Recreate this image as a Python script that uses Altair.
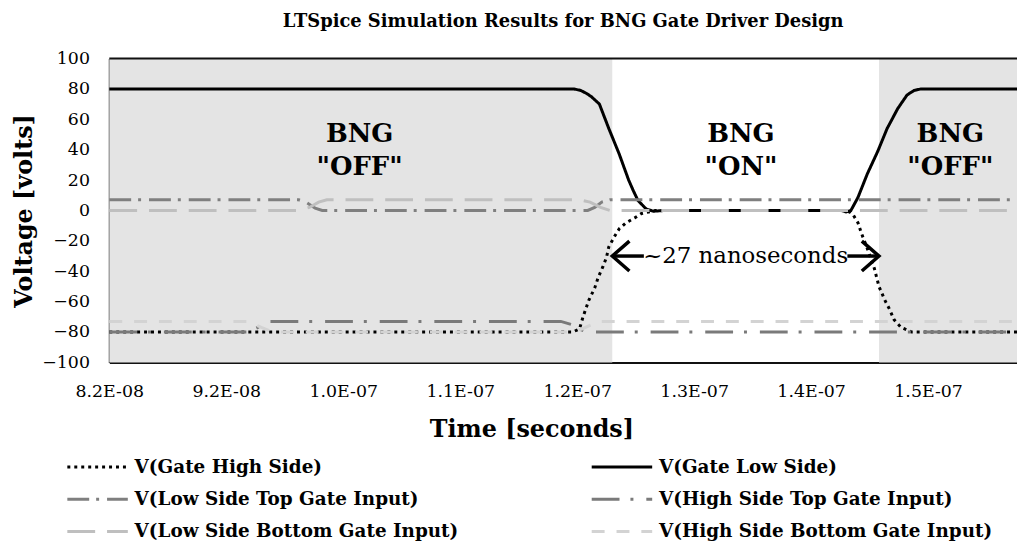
import json
import altair as alt
import pandas as pd

FONT = "DejaVu Serif"

# ---------------- data (time in ns, voltage in V) ----------------
series_names = [
    "V(Gate High Side)",
    "V(Gate Low Side)",
    "V(Low Side Top Gate Input)",
    "V(High Side Top Gate Input)",
    "V(Low Side Bottom Gate Input)",
    "V(High Side Bottom Gate Input)",
]

ghs_t = [82, 121.6, 122.2, 122.5, 123.0, 123.5, 123.8, 124.2, 124.5, 124.7, 125.2, 125.6,
         126.2, 126.9, 127.5, 128.1, 128.7, 144.8, 145.3, 145.6, 146.0, 146.3, 146.8,
         147.4, 147.8, 148.3, 148.7, 149.1, 149.7, 150.6, 159.6]
ghs_v = [-80, -80, -78, -70, -59, -51, -44, -37, -31, -24, -17, -12,
         -8, -5, -2, -1, 0, 0, -1, -3, -8, -15, -25,
         -38, -50, -59, -65, -72, -77, -80, -80]

gls_t = [82, 121.7, 122.3, 122.8, 123.2, 123.9, 124.7, 125.6, 126.4, 126.8, 127.2, 127.9,
         128.5, 129.5, 144.6, 145.0, 145.4, 146.0, 146.8, 147.7, 148.5, 149.4, 150.2,
         150.8, 151.4, 159.6]
gls_v = [80, 80, 79, 77, 75, 70, 54, 37, 20, 13, 6.5, 1,
         -0.5, 0, 0, -1, 0, 8.5, 24, 39, 54, 67, 76,
         79, 80, 80]

lst_t = [82, 98.2, 98.9, 99.6, 100.2, 122.9, 123.5, 124.1, 124.8, 159.6]
lst_v = [7, 7, 5, 1.5, 0, 0, 2, 5.5, 7, 7]

hst_t = [82, 93.9, 94.7, 95.6, 120.6, 121.5, 122.3, 122.9, 159.6]
hst_v = [-80, -80, -77, -73, -73, -75, -78.5, -80, -80]

lsb_t = [82, 98.2, 99.1, 99.9, 100.6, 122.2, 123.1, 124.0, 124.8, 159.6]
lsb_v = [0, 0, 2, 5.5, 7, 7, 5.5, 2, 0, 0]

hsb_t = [82, 93.9, 95.0, 96.0, 121.4, 122.4, 123.3, 124.0, 159.6]
hsb_v = [-73, -73, -77, -80, -80, -78, -75, -73, -73]

series_t = [ghs_t, gls_t, lst_t, hst_t, lsb_t, hsb_t]
series_v = [ghs_v, gls_v, lst_v, hst_v, lsb_v, hsb_v]

x_ticks = [82, 92, 102, 112, 122, 132, 142, 152]
x_labels = ["8.2E-08", "9.2E-08", "1.0E-07", "1.1E-07", "1.2E-07", "1.3E-07", "1.4E-07", "1.5E-07"]
y_ticks = [-100, -80, -60, -40, -20, 0, 20, 40, 60, 80, 100]

off_start = [82, 147.8]
off_end = [125.0, 159.6]

ann_x = [103.4, 136.0, 153.9]
ann_y = [40, 40, 40]
ann_text = ['BNG\n"OFF"', 'BNG\n"ON"', 'BNG\n"OFF"']

span_text = "~27 nanoseconds"
span_x = [136.4]
span_y = [-30]
stem_start = [125.0, 145.1]
stem_end = [127.7, 147.8]
head_left_x = [125.0]
head_right_x = [147.8]
arrow_y = -30
frame_top = 100

# ---------------- tables ----------------
rows = []
for name, ts, vs in zip(series_names, series_t, series_v):
    for t, v in zip(ts, vs):
        rows.append({"series": name, "t": t, "v": v})
df = pd.DataFrame(rows)

off_df = pd.DataFrame({"x0": off_start, "x1": off_end})
ann_df = pd.DataFrame({"x": ann_x, "y": ann_y, "label": ann_text})
span_df = pd.DataFrame({"x": span_x, "y": span_y, "label": [span_text]})
stem_df = pd.DataFrame({"x0": stem_start, "x1": stem_end, "y": [arrow_y] * 2})
hl_df = pd.DataFrame({"x": head_left_x, "y": [arrow_y]})
hr_df = pd.DataFrame({"x": head_right_x, "y": [arrow_y]})

colors = ["#000000", "#000000", "#7f7f7f", "#7a7a7a", "#bfbfbf", "#d3d3d3"]
dashes = [[3, 4], [1, 0], [22, 7, 3, 8], [28, 11, 3, 13], [28, 12], [13, 12]]

x_scale = alt.Scale(domain=[82, 159.6], nice=False, zero=False)
y_scale = alt.Scale(domain=[-100, 100], nice=False, zero=False)

lab_js = json.dumps(x_labels)
x_axis = alt.Axis(
    values=x_ticks,
    labelExpr=f"{lab_js}[round((datum.value - {x_ticks[0]}) / 10)]",
    title="Time [seconds]",
    titleFont=FONT, titleFontSize=24, titleFontWeight="bold", titleColor="black",
    titleX=425, titleY=68, titleAlign="center", titleBaseline="middle",
    labelFont=FONT, labelFontSize=17.5, labelColor="black", labelPadding=20,
    labelOverlap=False, labelFlush=False,
    ticks=False, tickSize=0, domain=True, domainColor="#111111", domainWidth=2, grid=False,
)
y_axis = alt.Axis(
    values=y_ticks,
    title="Voltage [volts]",
    titleFont=FONT, titleFontSize=24, titleFontWeight="bold", titleColor="black",
    titleAngle=270, titleX=-85, titleY=153, titleAlign="center", titleBaseline="middle",
    labelFont=FONT, labelFontSize=17.5, labelColor="black", labelPadding=20,
    labelOverlap=False,
    ticks=False, tickSize=0, domain=True, domainColor="#111111", domainWidth=2, grid=False,
)

legend = alt.Legend(
    title=None, orient="none", legendX=1, legendY=402, columns=2, direction="horizontal",
    symbolType="M-7.5,0L1.2,0", symbolSize=196, symbolStrokeWidth=3,
    labelFont=FONT, labelFontSize=18.5, labelFontWeight="bold", labelColor="black",
    labelLimit=600, labelOffset=6, rowPadding=13.5, columnPadding=127, padding=0,
)


def XQ(field):
    return alt.X(field, scale=x_scale, axis=x_axis)


def YQ(field):
    return alt.Y(field, scale=y_scale, axis=y_axis)


regions = alt.Chart(off_df).mark_rect(color="#e4e4e4").encode(x=XQ("x0:Q"), x2="x1:Q")

line_layers = []
for s in series_names:
    line_layers.append(
        alt.Chart(df).transform_filter(alt.datum.series == s).mark_line(strokeWidth=3).encode(
            x=XQ("t:Q"), y=YQ("v:Q"),
            color=alt.Color("series:N", scale=alt.Scale(domain=series_names, range=colors), legend=legend),
            strokeDash=alt.StrokeDash("series:N", scale=alt.Scale(domain=series_names, range=dashes), legend=legend),
            order="t:Q",
        )
    )

ann = alt.Chart(ann_df).mark_text(
    font=FONT, fontSize=26, fontWeight="bold", color="black",
    align="center", baseline="middle", lineBreak="\n", lineHeight=33, dy=-16,
).encode(x=XQ("x:Q"), y=YQ("y:Q"), text="label:N")

span = alt.Chart(span_df).mark_text(
    font=FONT, fontSize=23, color="black", align="center", baseline="middle",
).encode(x=XQ("x:Q"), y=YQ("y:Q"), text="label:N")

stems = alt.Chart(stem_df).mark_rule(color="black", strokeWidth=3.5).encode(
    x=XQ("x0:Q"), x2="x1:Q", y=YQ("y:Q")
)
head_l = alt.Chart(hl_df).mark_point(
    shape="M1.15,-1L0,0L1.15,1", size=900, filled=False, stroke="black", strokeWidth=3.5, opacity=1
).encode(x=XQ("x:Q"), y=YQ("y:Q"))
head_r = alt.Chart(hr_df).mark_point(
    shape="M-1.15,-1L0,0L-1.15,1", size=900, filled=False, stroke="black", strokeWidth=3.5, opacity=1
).encode(x=XQ("x:Q"), y=YQ("y:Q"))

top_border = alt.Chart(pd.DataFrame({"y": [frame_top]})).mark_rule(color="#111111", strokeWidth=2).encode(
    y=YQ("y:Q")
)

chart = alt.layer(regions, *line_layers, ann, span, stems, head_l, head_r, top_border).properties(
    width=914, height=306,
    autosize=alt.AutoSizeParams(type="none"),
    padding={"left": 102, "top": 49, "right": 0, "bottom": 184},
    title=alt.TitleParams(
        text="LTSpice Simulation Results for BNG Gate Driver Design",
        font=FONT, fontSize=18, fontWeight="bold", color="black",
        anchor="middle", frame="group", offset=26, baseline="bottom", dy=25,
    ),
).configure_view(strokeWidth=0)

chart.save("out.html", embed_options={"renderer": "svg", "actions": False})
